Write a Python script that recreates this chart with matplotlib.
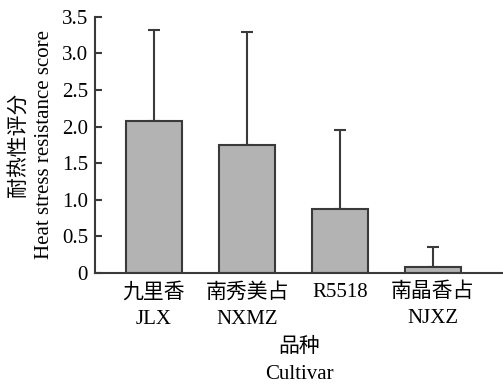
import matplotlib.pyplot as plt

plt.rcParams['font.family'] = ['Liberation Serif', 'Noto Sans CJK SC']

# Data
cultivars = ["九里香\nJLX", "南秀美占\nNXMZ", "R5518", "南晶香占\nNJXZ"]
scores = [2.08, 1.75, 0.88, 0.08]
errors = [1.24, 1.54, 1.07, 0.28]
y_ticks = [0, 0.5, 1.0, 1.5, 2.0, 2.5, 3.0, 3.5]
y_tick_labels = ["0", "0.5", "1.0", "1.5", "2.0", "2.5", "3.0", "3.5"]

fig = plt.figure(figsize=(5.03, 3.84), dpi=100)
ax = fig.add_axes([0.189, 0.289, 0.811, 0.667])

x = list(range(len(cultivars)))
ax.bar(x, scores, width=0.6, color="#b3b3b3", edgecolor="#3a3a3a", linewidth=1.5, zorder=2)
ax.errorbar(x, scores, yerr=[[0] * len(errors), errors], fmt="none",
            ecolor="#3a3a3a", elinewidth=1.5, capsize=4.5, capthick=1.5, zorder=1)

ax.set_xlim(-0.634, 3.753)
ax.set_ylim(0, 3.5)
ax.set_yticks(y_ticks)
ax.set_yticklabels(y_tick_labels)
ax.set_xticks(x)
ax.set_xticklabels(cultivars, linespacing=1.5)

ax.spines["top"].set_visible(False)
ax.spines["right"].set_visible(False)
for s in ["left", "bottom"]:
    ax.spines[s].set_color("#3a3a3a")
    ax.spines[s].set_linewidth(1.5)

ax.tick_params(axis="y", direction="in", length=5, width=1.5, color="#3a3a3a",
               labelsize=15, pad=5)
ax.tick_params(axis="x", length=0, labelsize=15, pad=7)

ax.set_xlabel("品种\nCultivar", fontsize=15, linespacing=1.55, labelpad=7)
ax.set_ylabel("耐热性评分\nHeat stress resistance score", fontsize=15,
              linespacing=1.45, labelpad=6)

fig.savefig("out.png", dpi=100)
